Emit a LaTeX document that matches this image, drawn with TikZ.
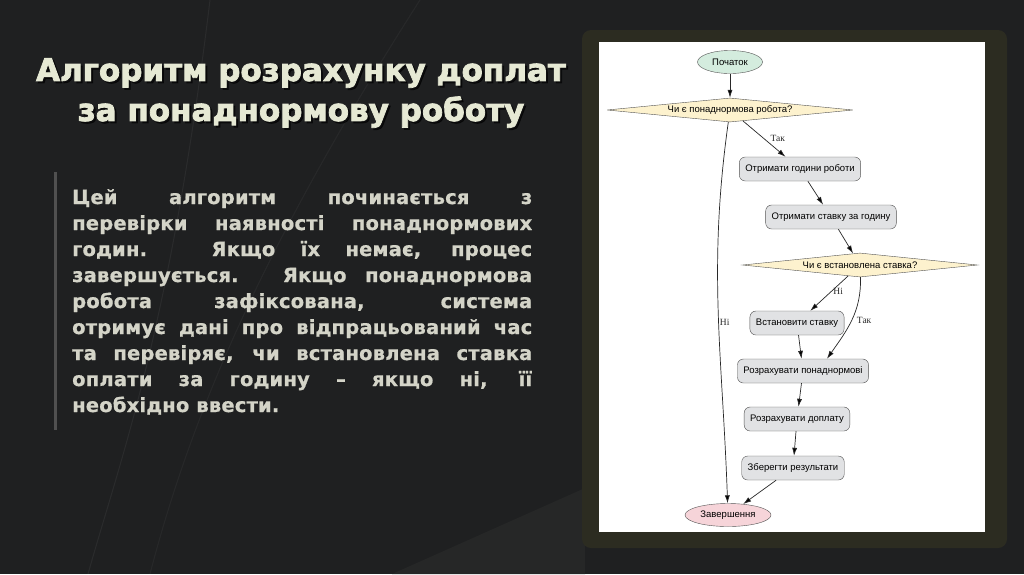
\documentclass[tikz,border=0pt]{standalone}
\usepackage{fontspec}
\usepackage{tikz}
\usetikzlibrary{arrows.meta}
\usetikzlibrary{shapes.geometric}

\newfontfamily\headfont[FakeBold=2.5]{DejaVu Sans Bold}
\newfontfamily\bodyfont[LetterSpace=1, FakeBold=0.8]{DejaVu Sans Bold}
\newfontfamily\chartfont{Liberation Sans}
\newfontfamily\edgefont{Liberation Serif}

\definecolor{slidebg}{RGB}{31,32,33}
\definecolor{slidelite}{RGB}{38,39,39}
\definecolor{framebg}{RGB}{44,44,33}
\definecolor{titlecol}{RGB}{230,233,212}
\definecolor{bodycol}{RGB}{212,212,200}
\definecolor{barcol}{RGB}{80,80,80}
\definecolor{startfill}{RGB}{212,236,222}
\definecolor{condfill}{RGB}{253,242,206}
\definecolor{procfill}{RGB}{225,226,228}
\definecolor{endfill}{RGB}{246,212,217}
\definecolor{edgecol}{RGB}{40,40,40}

\begin{document}
\begin{tikzpicture}[x=1pt, y=-1pt,
    term/.style = {draw=edgecol!80, ellipse, inner sep=0pt, minimum height=23pt, font=\chartfont\fontsize{9.5}{11}\selectfont},
    cond/.style = {draw=edgecol!80, diamond, aspect=10, inner sep=0pt, minimum height=24pt, fill=condfill, font=\chartfont\fontsize{9.5}{11}\selectfont},
    proc/.style = {draw=edgecol!80, rectangle, rounded corners=6pt, fill=procfill, inner xsep=6pt, minimum height=24pt, font=\chartfont\fontsize{9.5}{11}\selectfont},
    lbl/.style = {font=\edgefont\fontsize{9.5}{11}\selectfont, text=edgecol, inner sep=2pt},
    line/.style = {draw=edgecol, line width=0.7pt, -{Latex[length=8pt, width=5pt]}},
    body/.style = {anchor=base west, inner sep=0pt, text=bodycol, font=\bodyfont\fontsize{19.5}{26}\selectfont}]
    \useasboundingbox (0,0) rectangle (1024,574);

    % slide background
    \fill[slidebg] (0,0) rectangle (1024,574);
    \fill[slidelite] (392,574) -- (585,488) -- (585,574) -- cycle;
    \draw[white, opacity=0.05, line width=1pt] (88,574) .. controls (120,460) and (170,330) .. (210,0);
    \draw[white, opacity=0.04, line width=1pt] (150,574) .. controls (190,420) and (260,250) .. (420,0);

    % title
    \node[text=black, opacity=0.6, align=center, font=\headfont\fontsize{31}{40}\selectfont] (titleshadow) at (303,95) {Алгоритм розрахунку доплат\\за понаднормову роботу};
    \node[text=titlecol, align=center, font=\headfont\fontsize{31}{40}\selectfont] (title) at (301,93) {Алгоритм розрахунку доплат\\за понаднормову роботу};

    % text block
    \draw[barcol, line width=3pt] (55,172) coordinate (bartop) -- (55,430) coordinate (barbot);
    \foreach \ln [count=\i] in {{Цей алгоритм починається з}, {перевірки наявності понаднормових}, {годин. Якщо їх немає, процес}, {завершується. Якщо понаднормова}, {робота зафіксована, система}, {отримує дані про відпрацьований час}, {та перевіряє, чи встановлена ставка}, {оплати за годину – якщо ні, її}}
        \node[body] (line\i) at (72,204+26*\i-26) {\makebox[460pt][s]{\ln}};
    \node[body] (line9) at (72,412) {необхідно ввести.};

    % chart frame
    \fill[framebg, rounded corners=9pt] (582,30) rectangle (1007,548);
    \fill[white] (599,42) rectangle (985,532);

    % flowchart
    \node[term, fill=startfill, minimum width=65pt] (Start) at (730,62) {Початок};
    \node[cond, minimum width=246pt] (Q1) at (730,110) {Чи є понаднормова робота?};
    \node[proc] (Hours) at (800,169) {Отримати години роботи};
    \node[proc] (Rate) at (831,217) {Отримати ставку за годину};
    \node[cond, minimum width=235pt] (Q2) at (860,265) {Чи є встановлена ставка?};
    \node[proc] (SetRate) at (797,323) {Встановити ставку};
    \node[proc] (Over) at (803,371) {Розрахувати понаднормові};
    \node[proc] (Pay) at (797,419) {Розрахувати доплату};
    \node[proc] (Save) at (793,468) {Зберегти результати};
    \node[term, fill=endfill, minimum width=86pt] (End) at (728,515) {Завершення};

    \path[line] (Start) edge (Q1);
    \path[line] (Q1) edge node[lbl, right=4pt] {Так} (Hours);
    \path[line] (Q1) edge [out=-98, in=92] node[lbl, pos=0.53, right, inner sep=1pt] {Ні} (End);
    \path[line] (Hours) edge (Rate);
    \path[line] (Rate) edge (Q2);
    \path[line] (Q2) edge node[lbl, right, pos=0.45] {Ні} (SetRate);
    \path[line] (Q2) edge [out=-88, in=55] node[lbl, right=3pt, pos=0.5] {Так} (Over.27);
    \path[line] (SetRate) edge (Over);
    \path[line] (Over) edge (Pay);
    \path[line] (Pay) edge (Save);
    \path[line] (Save) edge (End);
\end{tikzpicture}
\end{document}
